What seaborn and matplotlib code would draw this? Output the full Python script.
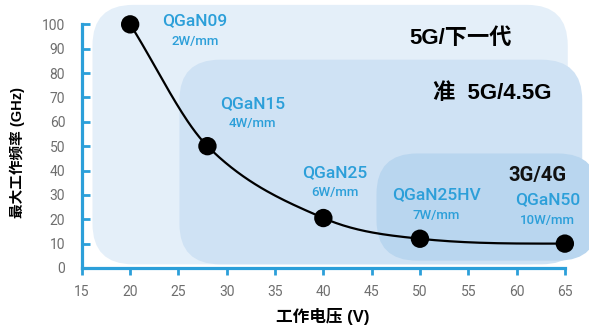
import numpy as np
import matplotlib
matplotlib.use("Agg")
import matplotlib.pyplot as plt
from matplotlib.patches import FancyBboxPatch
import seaborn as sns

# Data
voltage = [20, 28, 40, 50, 65]
max_freq = [100, 50, 20.5, 12, 10]
models = ["QGaN09", "QGaN15", "QGaN25", "QGaN25HV", "QGaN50"]
power = ["2W/mm", "4W/mm", "6W/mm", "7W/mm", "10W/mm"]
x_ticks = [15, 20, 25, 30, 35, 40, 45, 50, 55, 60, 65]
y_ticks = [0, 10, 20, 30, 40, 50, 60, 70, 80, 90, 100]
band_names = ["5G/下一代", "准  5G/4.5G", "3G/4G"]

sns.set_theme(style="white")
plt.rcParams["font.family"] = ["Noto Sans CJK SC", "DejaVu Sans"]

blue = "#2c9fd9"
gray = "#6e6e6e"
latin = ["Roboto", "DejaVu Sans"]
mixed = ["Liberation Sans", "Noto Sans CJK SC"]

fig = plt.figure(figsize=(5.89, 3.28), dpi=100)
ax = fig.add_axes([0.139, 0.183, 0.861, 0.817])
ax.set_xlim(15, 67.5)
ax.set_ylim(0, 110)

# px per data unit -> keeps rounded corners circular
aspect = (507 / 52.5) / (268 / 110)

# application bands (nested rounded boxes)
bands = [
    (16.1, 1.5, 65.3, 108, "#e4eff9"),
    (25.1, 1.5, 66.8, 85.5, "#cfe2f4"),
    (45.5, 3.0, 68.5, 47, "#b9d6ef"),
]
for x0, y0, x1, y1, c in bands:
    ax.add_patch(FancyBboxPatch((x0, y0), x1 - x0, y1 - y0,
                                boxstyle="round,pad=0,rounding_size=4.2",
                                mutation_aspect=aspect, fc=c, ec="none", zorder=0))

# smooth curve through the points (Catmull-Rom style Hermite, for drawing only)
xv = np.array(voltage, float)
yv = np.array(max_freq, float)
h = np.diff(xv)
d = np.diff(yv) / h
m = np.zeros_like(yv)
m[0], m[-1] = d[0], 0.0
for i in range(1, len(xv) - 1):
    m[i] = (yv[i + 1] - yv[i - 1]) / (xv[i + 1] - xv[i - 1])
xs, ys = [], []
for i in range(len(xv) - 1):
    t = np.linspace(0, 1, 40)
    h00 = 2 * t**3 - 3 * t**2 + 1
    h10 = t**3 - 2 * t**2 + t
    h01 = -2 * t**3 + 3 * t**2
    h11 = t**3 - t**2
    xs.append(xv[i] + t * h[i])
    ys.append(h00 * yv[i] + h10 * h[i] * m[i] + h01 * yv[i + 1] + h11 * h[i] * m[i + 1])
sns.lineplot(x=np.concatenate(xs), y=np.concatenate(ys), color="black",
             linewidth=1.6, sort=False, ax=ax, zorder=3)
sns.scatterplot(x=voltage, y=max_freq, color="black", s=175, edgecolor="none",
                ax=ax, zorder=4)

# labels
name_pos = [(26.7, 101.4), (32.7, 67.6), (41.2, 39.2), (51.7, 30.0), (63.2, 27.9)]
for (tx, ty), nm, pw in zip(name_pos, models, power):
    ax.text(tx, ty, nm, color=blue, fontsize=12.5, fontweight="medium",
            ha="center", va="center", family=latin, zorder=5)
    ax.text(tx, ty - 8.3, pw, color=blue, fontsize=9.5, fontweight="medium",
            ha="center", va="center", family=latin, zorder=5)

band_pos = [(54.2, 94.2), (57.5, 71.8)]
for (tx, ty), nm in zip(band_pos, band_names[:2]):
    ax.text(tx, ty, nm, color="black", fontsize=16, fontweight="bold",
            ha="center", va="center", family=mixed, zorder=5)
ax.text(62.2, 37.8, band_names[2], color="#111111", fontsize=14.5,
        fontweight="bold", ha="center", va="center", family=latin, zorder=5)

# axes styling
ax.set_xticks(x_ticks)
ax.set_yticks(y_ticks)
ax.set_xticklabels([str(v) for v in x_ticks], family=latin)
ax.set_yticklabels([str(v) for v in y_ticks], family=latin)
ax.tick_params(axis="y", direction="in", length=6, width=2, color=blue,
               labelsize=10, labelcolor=gray, pad=12, left=True)
ax.tick_params(axis="x", direction="out", length=5, width=2, color=blue,
               labelsize=10, labelcolor=gray, pad=7, bottom=True)
for s in ["top", "right"]:
    ax.spines[s].set_visible(False)
for s in ["left", "bottom"]:
    ax.spines[s].set_color(blue)
    ax.spines[s].set_linewidth(2.3)
ax.spines["left"].set_bounds(0, 100)
ax.spines["bottom"].set_bounds(15, 65)
ax.grid(False)
ax.set_facecolor("white")

ax.set_ylabel("最大工作频率 (GHz)", fontsize=10.5, fontweight="bold",
              color="black", family=mixed)
ax.set_xlabel("工作电压 (V)", fontsize=12, fontweight="bold",
              color="black", family=mixed)
ax.yaxis.label.set_va("center")
ax.xaxis.label.set_va("center")
ax.yaxis.set_label_coords(-0.128, 0.43)
ax.xaxis.set_label_coords(0.474, -0.18)

fig.savefig("out.png", dpi=100)
